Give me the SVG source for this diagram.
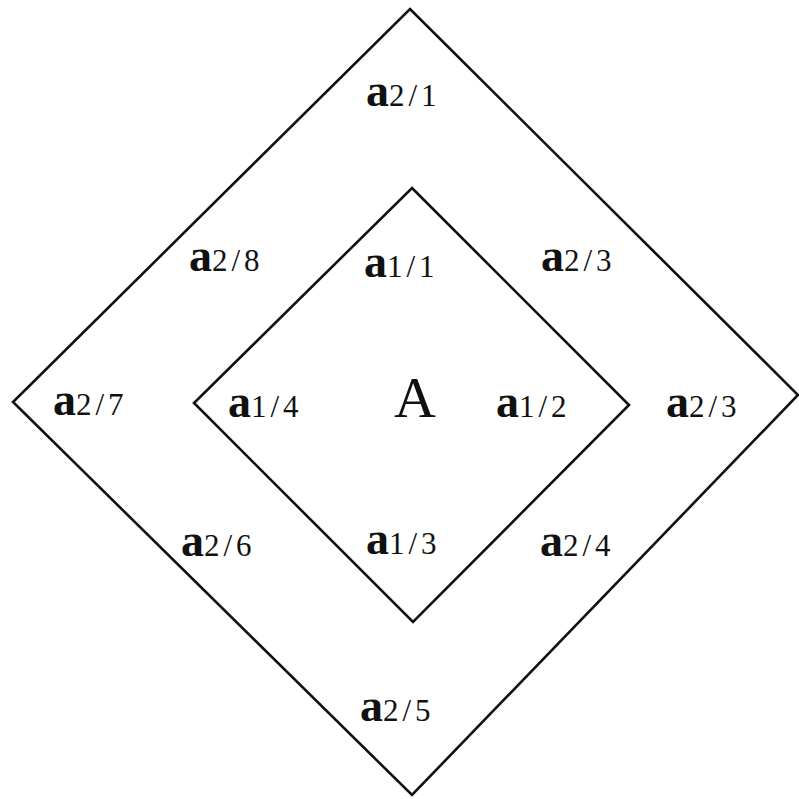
<svg xmlns="http://www.w3.org/2000/svg" width="799" height="799" viewBox="0 0 799 799">
<style>
.d{fill:none;stroke:#111;stroke-width:2.6;stroke-linejoin:miter}
text{font-family:"Liberation Serif","Times New Roman",serif;fill:#111}
.a{font-size:46px;font-weight:bold}
.s{font-size:31px;letter-spacing:4px}
.big{font-size:58px}
</style>
<rect width="799" height="799" fill="#fff"/>
<g id="connectors">
<polygon id="outer" class="d" points="410,9 798,395 412,795 13,402"/>
<polygon id="inner" class="d" points="412,188 629,405 413,622 194,403"/>
</g>
<g id="n_a21"><text x="366" y="106"><tspan class="a">a</tspan><tspan class="s">2/1</tspan></text></g>
<g id="n_a28"><text x="189" y="271"><tspan class="a">a</tspan><tspan class="s">2/8</tspan></text></g>
<g id="n_a11"><text x="364" y="277"><tspan class="a">a</tspan><tspan class="s">1/1</tspan></text></g>
<g id="n_a23u"><text x="541" y="271"><tspan class="a">a</tspan><tspan class="s">2/3</tspan></text></g>
<g id="n_a27"><text x="53" y="415"><tspan class="a">a</tspan><tspan class="s">2/7</tspan></text></g>
<g id="n_a14"><text x="228" y="417"><tspan class="a">a</tspan><tspan class="s">1/4</tspan></text></g>
<g id="n_A"><text x="394" y="417" class="big">A</text></g>
<g id="n_a12"><text x="496" y="417"><tspan class="a">a</tspan><tspan class="s">1/2</tspan></text></g>
<g id="n_a23r"><text x="666" y="417"><tspan class="a">a</tspan><tspan class="s">2/3</tspan></text></g>
<g id="n_a26"><text x="181" y="556"><tspan class="a">a</tspan><tspan class="s">2/6</tspan></text></g>
<g id="n_a13"><text x="366" y="554"><tspan class="a">a</tspan><tspan class="s">1/3</tspan></text></g>
<g id="n_a24"><text x="540" y="556"><tspan class="a">a</tspan><tspan class="s">2/4</tspan></text></g>
<g id="n_a25"><text x="360" y="721"><tspan class="a">a</tspan><tspan class="s">2/5</tspan></text></g>
</svg>
